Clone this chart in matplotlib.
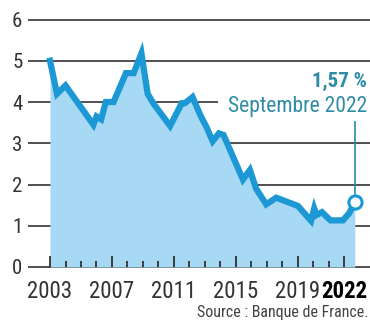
import numpy as np
import matplotlib
matplotlib.use("Agg")
import matplotlib.pyplot as plt
from matplotlib import font_manager

# pick a narrow face if one is around
installed = {f.name for f in font_manager.fontManager.ttflist}
narrow = [n for n in ['Liberation Sans Narrow', 'Roboto Condensed', 'Open Sans Condensed',
                      'DejaVu Sans Condensed', 'Noto Sans Condensed'] if n in installed]
plt.rcParams['font.family'] = narrow + ['Roboto', 'DejaVu Sans']
plt.rcParams['font.stretch'] = 'condensed'

# Taux moyen des crédits immobiliers (%)
years = [2003.0, 2003.45, 2004.0, 2005.8, 2006.0, 2006.3, 2006.6, 2007.1,
         2007.9, 2008.4, 2008.9, 2009.3, 2009.7, 2010.75, 2011.5, 2011.7,
         2012.2, 2012.7, 2013.1, 2013.5, 2013.9, 2014.2, 2015.45, 2015.9,
         2016.3, 2016.95, 2017.6, 2019.0, 2019.85, 2020.05, 2020.2, 2020.55,
         2021.1, 2021.9, 2022.3, 2022.67]
rates = [5.0, 4.2, 4.4, 3.45, 3.65, 3.58, 4.0, 4.0,
         4.7, 4.7, 5.18, 4.2, 3.95, 3.42, 3.97, 3.97,
         4.12, 3.68, 3.39, 3.05, 3.24, 3.2, 2.12, 2.35,
         1.9, 1.52, 1.68, 1.48, 1.12, 1.42, 1.26, 1.33,
         1.13, 1.13, 1.3, 1.57]

y_ticks = [0, 1, 2, 3, 4, 5, 6]
x_major = [2003, 2007, 2011, 2015, 2019, 2022]
x_labels = ['2003', '2007', '2011', '2015', '2019', '2022']
last_value = 1.57
last_label = 'Septembre 2022'

line_blue = '#1c98d5'
fill_blue = '#a7d8f4'
teal = '#2f8ba6'
dark = '#222222'

fig = plt.figure(figsize=(3.7, 3.25), dpi=100, facecolor='white')
ax = fig.add_axes([28 / 370, 58 / 325, 1 - 28 / 370, (267 - 19.5) / 325])
ax.set_xlim(2001.58, 2023.65)
ax.set_ylim(0, 6)

# horizontal rules sit underneath the filled area
ax.hlines(y_ticks, 2001.58, 2023.65, color=dark, lw=1.1, zorder=0.5, clip_on=False)

ax.fill_between(years, rates, 0, color=fill_blue, lw=0, zorder=1)
ax.plot(years, rates, color=line_blue, lw=4.5, solid_joinstyle='miter', zorder=3)

# marker and callout for the latest value
ax.vlines(years[-1], last_value, 3.55, color=teal, lw=1.2, zorder=2.5)
ax.plot(years[-1], last_value, 'o', ms=9.5, mfc='white', mec=line_blue, mew=2.2, zorder=4)
ax.text(2023.45, 3.9, last_label, ha='right', va='center', fontsize=15.5, color=teal,
        bbox=dict(boxstyle='square,pad=0.45', fc='white', ec='none'), zorder=0.8)
ax.text(2023.45, 4.5, f"{last_value:.2f}".replace('.', ',') + ' %', ha='right', va='center',
        fontsize=15, fontweight='bold', color=teal, zorder=2)

for s in ['top', 'right', 'left', 'bottom']:
    ax.spines[s].set_visible(False)

ax.set_yticks(y_ticks)
ax.set_yticklabels([str(v) for v in y_ticks], fontsize=15, color='#333333')
ax.tick_params(axis='y', length=0, pad=4)

ax.set_xticks(x_major)
ax.set_xticks(np.arange(2003, 2023), minor=True)
ax.set_xticklabels(x_labels, fontsize=16.5, color='#333333')
ax.get_xticklabels()[-1].set_fontweight('bold')
ax.get_xticklabels()[-1].set_color('black')
ax.tick_params(axis='x', which='major', direction='in', length=8, width=1.2, color=dark, pad=9)
ax.tick_params(axis='x', which='minor', direction='in', length=4.3, width=1.2, color=dark)
ax.xaxis.set_zorder(3.5)

fig.text(368 / 370, 1 - 312 / 325, 'Source : Banque de France.', ha='right', va='center',
         fontsize=11.5, color='#444444')

fig.savefig('out.png', dpi=100, facecolor='white')
